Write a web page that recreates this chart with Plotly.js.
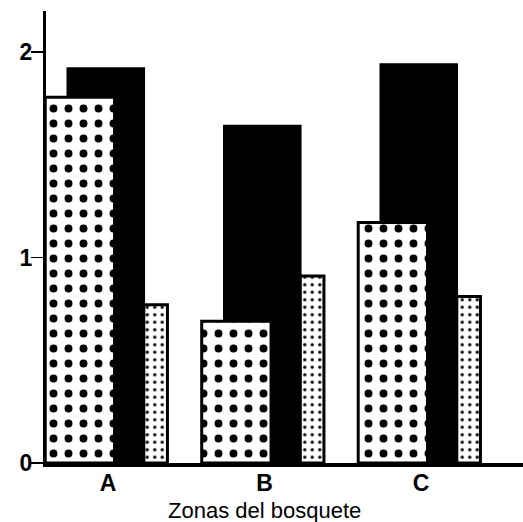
<!DOCTYPE html>
<html>
<head>
<meta charset="utf-8">
<script src="https://cdn.plot.ly/plotly-3.0.1.min.js"></script>
<style>html,body{margin:0;padding:0;background:#fff;}#chart{width:523px;height:522px;}</style>
</head>
<body>
<div id="chart"></div>
<script>
// Data
const categories = ['A', 'B', 'C'];
const seriesBigDots = [1.78, 0.69, 1.17];   // front, coarse dotted bars
const seriesBlack = [1.92, 1.64, 1.94];     // back, solid black bars
const seriesSmallDots = [0.77, 0.91, 0.81]; // right, fine dotted bars
const yTickVals = [0, 1, 2];
const yTickText = ['0', '1', '2'];
const xTitle = 'Zonas del bosquete';

const FONT = '"Liberation Sans", Arial, Helvetica, sans-serif';

const traces = [
  {
    type: 'bar', x: categories, y: seriesBlack,
    offset: -0.257, width: 0.486,
    marker: {color: 'black', line: {color: 'black', width: 2.5}},
    hoverinfo: 'skip'
  },
  {
    type: 'bar', x: categories, y: seriesBigDots,
    offset: -0.401, width: 0.443,
    marker: {color: 'white', line: {color: 'black', width: 3},
      pattern: {shape: '.', fgcolor: 'black', bgcolor: 'white', size: 15, solidity: 0.22, fillmode: 'replace'}},
    hoverinfo: 'skip'
  },
  {
    type: 'bar', x: categories, y: seriesSmallDots,
    offset: 0.229, width: 0.151,
    marker: {color: 'white', line: {color: 'black', width: 3},
      pattern: {shape: '.', fgcolor: 'black', bgcolor: 'white', size: 7.5, solidity: 0.16, fillmode: 'replace'}},
    hoverinfo: 'skip'
  }
];

const layout = {
  width: 523, height: 522,
  margin: {l: 46, r: 0, t: 11, b: 59, pad: 0},
  paper_bgcolor: 'white', plot_bgcolor: 'white',
  showlegend: false,
  barmode: 'overlay',
  font: {family: FONT, color: 'black'},
  xaxis: {
    type: 'category',
    range: [-0.396, 2.652],
    showline: true, linecolor: 'black', linewidth: 3.5,
    ticks: '', showgrid: false, zeroline: false,
    ticklabelstandoff: -3,
    tickfont: {family: FONT, size: 23, color: 'black', weight: 'bold'},
    fixedrange: true
  },
  yaxis: {
    range: [0, 2.2],
    showline: true, linecolor: 'black', linewidth: 3,
    ticks: 'outside', ticklen: 12, tickwidth: 1.5, tickcolor: 'black',
    tickvals: yTickVals, ticktext: yTickText,
    ticklabelstandoff: -6,
    showgrid: false, zeroline: false,
    tickfont: {family: FONT, size: 23, color: 'black', weight: 'bold'},
    fixedrange: true
  },
  annotations: [{
    text: xTitle, xref: 'x', yref: 'paper',
    x: 1, y: -0.105, xanchor: 'center', yanchor: 'middle',
    showarrow: false,
    font: {family: FONT, size: 22, color: 'black'}
  }]
};

Plotly.newPlot('chart', traces, layout, {staticPlot: true, displayModeBar: false});
</script>
</body>
</html>
